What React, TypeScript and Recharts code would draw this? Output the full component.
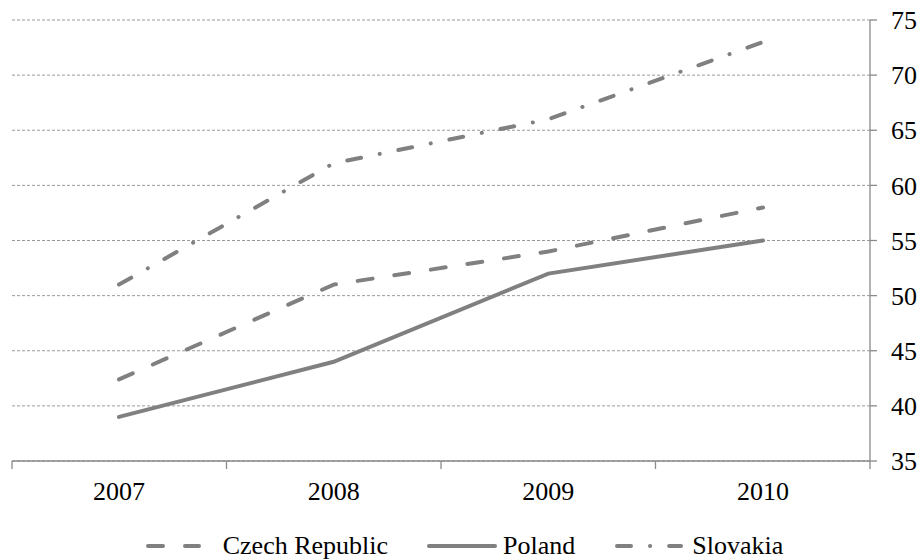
import React from "react";
import { LineChart, Line, XAxis, YAxis, CartesianGrid, Legend } from "recharts";

const years = ["2007", "2008", "2009", "2010"];
const czech = [42.4, 51, 54, 58];
const poland = [39, 44, 52, 55];
const slovakia = [51, 62, 66, 73];
const yTicks = [35, 40, 45, 50, 55, 60, 65, 70, 75];
const bandTicks = [0, 1, 2, 3, 4];

const data = years.map((y, i) => ({
  year: y,
  slot: i + 0.5,
  czech: czech[i],
  poland: poland[i],
  slovakia: slovakia[i],
}));

const LINE = "#808080";
const AXIS = "#8a8a8a";
const FONT = "'Liberation Serif', 'Times New Roman', serif";
const FS = 26;

const series = [
  { key: "czech", name: "Czech Republic", dash: "15 22" as string | undefined },
  { key: "poland", name: "Poland", dash: undefined as string | undefined },
  { key: "slovakia", name: "Slovakia", dash: "14 19 0.1 19" as string | undefined },
];

const legendIcons: Record<string, { w: number; before: number; after: number }> = {
  "Czech Republic": { w: 55, before: 0, after: 22 },
  Poland: { w: 70, before: 39, after: 6 },
  Slovakia: { w: 68, before: 40, after: 9 },
};

const renderLegend = () => (
  <div
    style={{
      display: "flex",
      justifyContent: "center",
      alignItems: "center",
      fontFamily: FONT,
      fontSize: FS,
      color: "#000",
      height: 28,
      marginLeft: -4,
      lineHeight: "28px",
    }}
  >
    {series.map((s) => {
      const ic = legendIcons[s.name];
      return (
        <div
          key={s.key}
          style={{ display: "flex", alignItems: "center", marginLeft: ic.before }}
        >
          <svg width={ic.w} height={10} style={{ marginRight: ic.after }}>
            <line
              x1={2}
              y1={5}
              x2={ic.w - 2}
              y2={5}
              stroke={LINE}
              strokeWidth={4}
              strokeLinecap="round"
              strokeDasharray={s.dash}
            />
          </svg>
          <span>{s.name}</span>
        </div>
      );
    })}
  </div>
);

export default function App() {
  return (
    <div style={{ position: "absolute", left: 0, top: 0, background: "#fff" }}>
      <LineChart
        width={921}
        height={560}
        data={data}
        margin={{ top: 20, right: 0, left: 12, bottom: 0 }}
      >
        <CartesianGrid
          vertical={false}
          stroke="#9a9a9a"
          strokeDasharray="3 2"
          yAxisId="y"
          xAxisId="cat"
        />
        <XAxis
          xAxisId="band"
          dataKey="slot"
          type="number"
          domain={[0, 4]}
          ticks={bandTicks}
          interval={0}
          allowDataOverflow
          height={1}
          tick={{ fill: "none", fontSize: 1 }}
          tickFormatter={() => ""}
          tickSize={8}
          axisLine={{ stroke: AXIS, strokeWidth: 1.3 }}
          tickLine={{ stroke: AXIS, strokeWidth: 1.3 }}
        />
        <XAxis
          xAxisId="cat"
          dataKey="year"
          padding={{ left: 107, right: 107 }}
          axisLine={false}
          tickLine={false}
          tickSize={0}
          tickMargin={20}
          height={70}
          tick={{ fill: "#000", fontSize: FS, fontFamily: FONT }}
        />
        <YAxis
          yAxisId="y"
          orientation="right"
          domain={[35, 75]}
          ticks={yTicks}
          interval={0}
          width={51}
          tickSize={7}
          tickMargin={14}
          axisLine={{ stroke: AXIS, strokeWidth: 1.3 }}
          tickLine={{ stroke: AXIS, strokeWidth: 1.3 }}
          tick={{ fill: "#000", fontSize: FS, fontFamily: FONT, textAnchor: "start" }}
        />
        <Legend verticalAlign="bottom" content={renderLegend} />
        {series.map((s) => (
          <Line
            key={s.key}
            xAxisId="cat"
            yAxisId="y"
            type="linear"
            dataKey={s.key}
            name={s.name}
            stroke={LINE}
            strokeWidth={4}
            strokeLinecap="round"
            strokeDasharray={s.dash}
            dot={false}
            activeDot={false}
            isAnimationActive={false}
          />
        ))}
      </LineChart>
    </div>
  );
}
